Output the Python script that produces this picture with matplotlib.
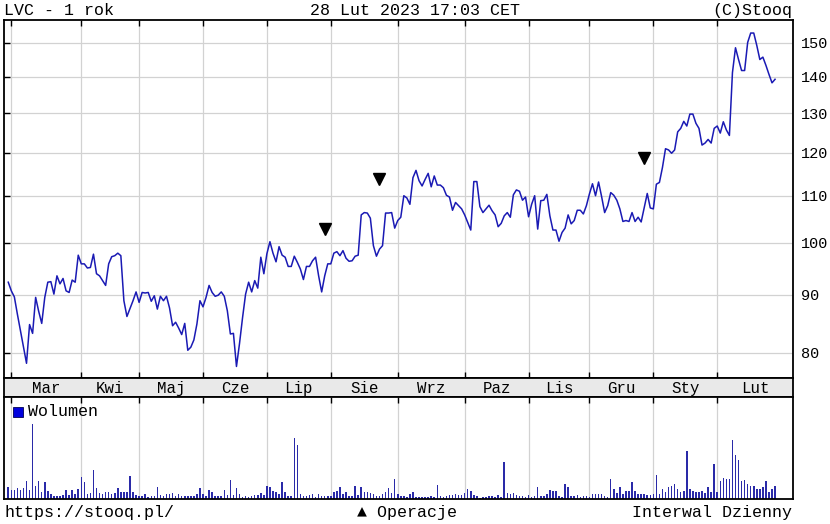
import numpy as np
import matplotlib
matplotlib.use('Agg')
import matplotlib.pyplot as plt
from matplotlib.patches import Rectangle
from matplotlib.ticker import FixedLocator, FixedFormatter, NullLocator

# LVC daily close, 28 Feb 2022 .. 28 Feb 2023 (one value per trading day)
price = [
    92.3, 90.7, 89.6, 86.5, 83.7, 81.0, 78.3, 84.7, 83.2, 89.5,
    87.0, 84.9, 89.5, 92.3, 92.4, 90.1, 93.5, 92.0, 93.0, 90.7,
    90.4, 92.7, 92.3, 97.5, 95.8, 95.8, 95.0, 95.1, 97.7, 93.9,
    93.5, 92.6, 91.7, 95.8, 97.2, 97.4, 97.9, 97.4, 88.9, 86.1,
    87.5, 88.9, 90.5, 88.6,
    90.4, 90.3, 90.4, 88.8, 89.8, 87.4, 89.7, 88.9, 89.7, 87.6,
    84.5, 85.1, 84.1, 83.0, 84.9, 80.4, 80.9, 82.1, 84.8, 88.9,
    87.8, 89.5, 91.7, 90.4, 89.7, 89.9, 90.5, 89.7, 87.1, 83.1,
    83.2, 77.8, 81.5, 85.9, 90.1, 92.3, 90.5, 92.6, 91.2, 97.1,
    93.9, 97.8, 100.2, 97.9, 96.2, 99.2, 97.5, 97.1, 95.3, 95.3,
    97.3, 96.1, 94.8, 92.8, 95.3, 95.3, 96.4, 97.1, 93.5, 90.5,
    93.5, 95.8, 95.8, 97.9, 98.2, 97.4, 98.4, 96.9, 96.3, 96.4,
    97.3, 97.5, 105.8, 106.3, 106.2, 105.1, 99.4, 97.3, 98.7, 99.4,
    106.2, 106.2, 106.3, 103.0, 104.6,
    105.3, 110.0, 109.5, 108.1, 114.1, 115.8, 113.4, 112.2, 113.7, 115.1,
    112.0, 114.5, 112.4, 112.4, 111.8, 110.1, 109.7, 106.8, 108.5, 107.8,
    107.1, 105.8, 104.2, 102.6, 113.2, 113.2, 107.6, 106.3, 107.1, 107.9,
    106.7, 105.8, 103.3, 104.0, 105.6, 106.3, 105.3, 110.2, 111.3, 111.0,
    109.0, 109.7,
    105.4, 108.1, 110.0, 102.8, 108.9, 109.0, 110.3, 105.6, 102.6, 102.6,
    100.3, 102.1, 103.0, 105.8, 103.9, 104.6, 106.8, 106.8, 106.0, 107.8,
    110.4, 112.7, 110.0, 113.1, 109.8, 106.3, 107.8, 110.7, 110.1, 109.0,
    107.1, 104.4, 104.6, 104.4, 106.3, 104.4, 105.3, 104.3, 107.4, 110.5,
    107.3, 107.1,
    112.6, 113.0, 116.5, 121.0, 120.7, 119.9, 120.7, 125.2, 126.1, 127.9,
    126.7, 129.8, 129.8, 127.4, 126.1, 121.9, 122.4, 123.3, 122.4, 126.1,
    126.7, 124.9, 127.8, 125.7, 124.3, 141.2, 148.5, 145.0, 141.8, 141.8,
    150.1, 153.0, 153.0, 149.2, 145.0, 145.7, 143.3, 140.7, 138.3, 139.3,
]

# relative daily volume (arbitrary units)
volume = [
    12, 9, 9, 11, 9, 11, 18, 9, 74, 13, 18, 7, 17, 8, 5, 3, 3, 3, 4, 9,
    4, 9, 5, 10, 22, 17, 5, 6, 29, 11, 6, 5, 7, 7, 5, 6, 11, 7, 7, 7,
    23, 7, 4, 3, 3, 5, 2, 3, 3, 12, 4, 3, 5, 5, 6, 3, 5, 3, 3, 3,
    3, 3, 5, 11, 5, 3, 9, 7, 3, 3, 3, 9, 4, 19, 4, 11, 5, 2, 3, 2,
    3, 4, 4, 6, 4, 13, 12, 8, 7, 5, 17, 7, 3, 3, 60, 53, 5, 3, 3, 4,
    5, 2, 5, 3, 3, 3, 3, 7, 8, 12, 5, 7, 3, 3, 13, 4, 12, 7, 7, 6,
    5, 3, 3, 5, 7, 11, 6, 20, 5, 3, 3, 2, 5, 7, 2, 2, 2, 2, 2, 3,
    2, 14, 3, 2, 3, 4, 4, 5, 4, 4, 6, 10, 8, 4, 3, 1, 2, 2, 3, 3,
    2, 4, 2, 37, 6, 5, 6, 4, 3, 3, 2, 4, 2, 3, 12, 3, 3, 5, 9, 8,
    8, 3, 2, 15, 12, 3, 3, 4, 2, 3, 3, 2, 5, 5, 5, 5, 3, 2, 20, 10,
    6, 12, 5, 8, 8, 17, 8, 5, 5, 5, 4, 4, 5, 24, 5, 10, 7, 12, 13, 15,
    10, 7, 8, 48, 10, 8, 7, 7, 8, 6, 12, 7, 35, 7, 18, 21, 20, 20, 58, 44,
    39, 18, 19, 15, 13, 13, 10, 10, 12, 18, 7, 10, 13,
]

month_labels = ['Mar', 'Kwi', 'Maj', 'Cze', 'Lip', 'Sie', 'Wrz', 'Paz',
                'Lis', 'Gru', 'Sty', 'Lut']
month_starts = [1, 24, 43, 64, 85, 106, 128, 150, 171, 191, 212, 233]
price_ticks = [80, 90, 100, 110, 120, 130, 140, 150]

# "Operacje" markers (day index, level)
ops_idx = [104, 122, 209]
ops_val = [102.9, 113.9, 118.8]

LINE = '#1a1ab4'
GRID = '#d2d2d2'
FONT = ['Liberation Mono', 'DejaVu Sans Mono', 'DejaVu Sans']
plt.rcParams['font.family'] = FONT

W, H = 830, 524
fig = plt.figure(figsize=(W / 100, H / 100), dpi=100)


def rect(l, t, r, b):
    return [l / W, 1 - b / H, (r - l) / W, (b - t) / H]


def fx(px):
    return px / W


def fy(py):
    return 1 - py / H


xlim = (-1.4, 257.9)

# price panel
ax = fig.add_axes(rect(4, 20, 793, 378))
ax.plot(np.arange(len(price)), price, color=LINE, lw=1.1)
ax.plot(ops_idx, ops_val, 'v', color='black', ms=8, ls='none')
ax.set_yscale('log')
ax.set_ylim(76.0, 157.1)
ax.set_xlim(*xlim)
ax.yaxis.set_major_locator(FixedLocator(price_ticks))
ax.yaxis.set_minor_locator(NullLocator())
ax.yaxis.set_major_formatter(FixedFormatter([str(v) for v in price_ticks]))
ax.set_xticks(month_starts)
ax.xaxis.set_minor_locator(NullLocator())
ax.tick_params(axis='x', top=True, bottom=True, direction='in', length=4,
               labelbottom=False, width=1)
ax.tick_params(axis='y', left=True, right=False, labelleft=False,
               labelright=True, direction='in', length=4, width=1,
               pad=6, labelsize=11)
ax.grid(True, color=GRID, lw=0.9)
ax.set_axisbelow(True)

# month band
band = fig.add_axes(rect(4, 378, 793, 397))
band.set_facecolor('#e9e9e9')
band.set_xlim(*xlim)
band.set_ylim(0, 1)
band.set_xticks([])
band.set_yticks([])
edges = month_starts + [xlim[1]]
for i, lab in enumerate(month_labels):
    c = (edges[i] + edges[i + 1]) / 2
    band.text(c, 0.2, lab, ha='center', va='baseline', fontsize=11.3)

# volume panel
axv = fig.add_axes(rect(4, 397, 793, 499))
axv.bar(np.arange(len(volume)), volume, width=0.5, color='#2a2aa8')
axv.set_xlim(*xlim)
axv.set_ylim(0, 101)
axv.set_xticks(month_starts)
axv.set_yticks([])
axv.tick_params(axis='x', top=True, bottom=False, direction='in', length=4,
                labelbottom=False, width=1)
axv.grid(True, axis='x', color=GRID, lw=0.9)
axv.set_axisbelow(True)

for a in (ax, band, axv):
    for s in a.spines.values():
        s.set_linewidth(1.3)
        s.set_color('black')

# legend
fig.patches.append(Rectangle((fx(12.7), fy(417)), 10 / W, 10 / H,
                             transform=fig.transFigure, facecolor='#0000dd',
                             edgecolor='#000055', lw=0.6))
fig.text(fx(27.5), fy(416.5), 'Wolumen', fontsize=12, va='baseline')

# header and footer
fig.text(fx(4), fy(15), 'LVC - 1 rok', fontsize=12, va='baseline')
fig.text(fx(415), fy(15), '28 Lut 2023 17:03 CET', fontsize=12,
         va='baseline', ha='center')
fig.text(fx(792), fy(15), '(C)Stooq', fontsize=12, va='baseline', ha='right')
fig.text(fx(4), fy(517), 'https://stooq.pl/', fontsize=12, va='baseline')
fig.text(fx(407), fy(517), '▲ Operacje', fontsize=12, va='baseline',
         ha='center')
fig.text(fx(792), fy(517), 'Interwal Dzienny', fontsize=12, va='baseline',
         ha='right')

fig.savefig('out.png', dpi=100)
